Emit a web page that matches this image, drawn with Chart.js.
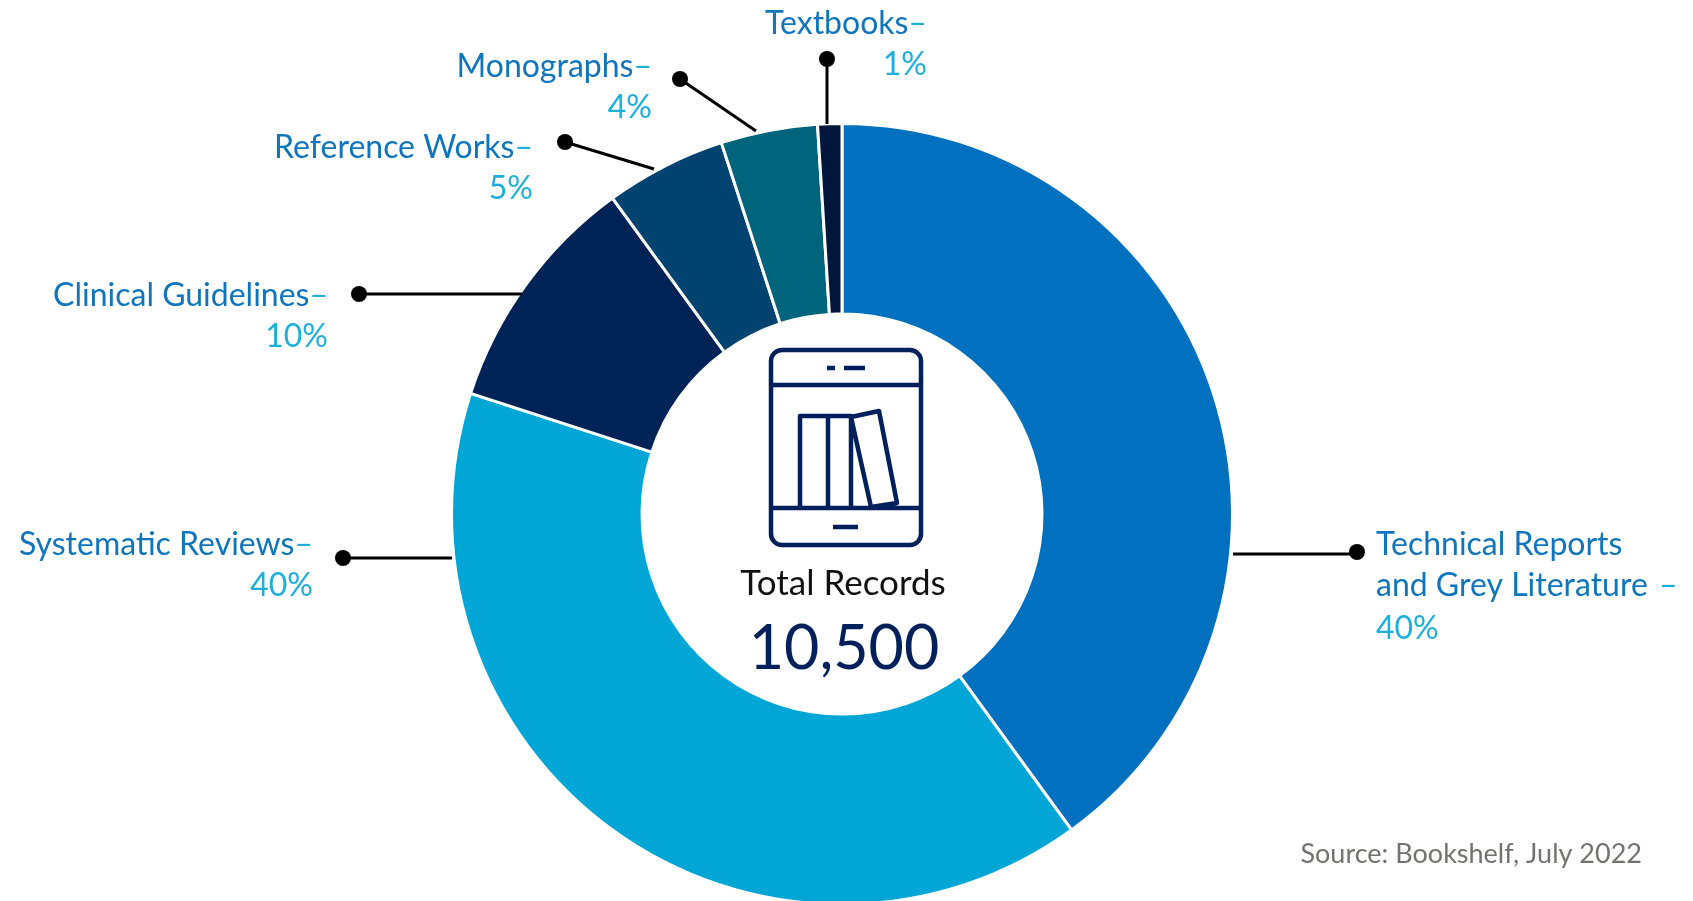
<!DOCTYPE html>
<html>
<head>
<meta charset="utf-8">
<title>Bookshelf records by type</title>
<script src="https://cdn.jsdelivr.net/npm/chart.js@4"></script>
<style>
    html, body { margin: 0; padding: 0; background: #fff; overflow: hidden; }
    canvas { display: block; }
</style>
</head>
<body>
<canvas id="chart" width="1693" height="920"></canvas>
<script>
const categories = ['Technical Reports and Grey Literature', 'Systematic Reviews', 'Clinical Guidelines', 'Reference Works', 'Monographs', 'Textbooks'];
const shares = [40, 40, 10, 5, 4, 1];
const sliceColors = ['#0070BF', '#00A7D6', '#002357', '#004370', '#00647C', '#00173B'];
const totalLabel = 'Total Records';
const totalValue = '10,500';
const sourceNote = 'Source: Bookshelf, July 2022';

const FONT = 'Lato, Carlito, Calibri, sans-serif';
const BLUE = '#0F75BC';
const CYAN = '#1DB0DC';
const NAVY = '#00205B';

// callouts, same order as categories
const callouts = [
    { dot: [1357, 552], start: [1350, 554], end: [1233, 554] },
    { dot: [343, 558], end: [452, 558], right: 313, y: 555 },
    { dot: [359, 294], end: [522, 294], right: 328, y: 306 },
    { dot: [565, 142], end: [654, 169], right: 533, y: 158 },
    { dot: [680, 79], end: [756, 131], right: 652, y: 77 },
    { dot: [827, 59], end: [827, 124], right: 927, y: 34 },
];

function drawCallouts(ctx) {
    ctx.strokeStyle = '#000';
    ctx.fillStyle = '#000';
    ctx.lineWidth = 3;
    callouts.forEach(c => {
        const start = c.start || c.dot;
        ctx.beginPath();
        ctx.moveTo(start[0], start[1]);
        ctx.lineTo(c.end[0], c.end[1]);
        ctx.stroke();
        ctx.beginPath();
        ctx.arc(c.dot[0], c.dot[1], 8, 0, Math.PI * 2);
        ctx.fill();
    });
}

function drawLabels(ctx) {
    ctx.font = '32px ' + FONT;
    ctx.textBaseline = 'alphabetic';

    // the five labels set flush right
    callouts.forEach((c, i) => {
        if (c.right === undefined) return;
        const dashWidth = ctx.measureText('–').width;
        ctx.textAlign = 'right';
        ctx.fillStyle = CYAN;
        ctx.fillText('–', c.right, c.y);
        ctx.fillText(shares[i] + '%', c.right, c.y + 41);
        ctx.fillStyle = BLUE;
        ctx.fillText(categories[i], c.right - dashWidth, c.y);
    });

    // the long one wraps over two lines on the right side
    ctx.textAlign = 'left';
    ctx.fillStyle = BLUE;
    ctx.fillText('Technical Reports', 1376, 555);
    ctx.fillText('and Grey Literature', 1376, 596);
    const w = ctx.measureText('and Grey Literature ').width;
    ctx.fillStyle = CYAN;
    ctx.fillText('–', 1379 + w, 596);
    ctx.fillText(shares[0] + '%', 1376, 639);
}

function drawIcon(ctx) {
    ctx.strokeStyle = NAVY;
    ctx.lineWidth = 4.5;
    ctx.lineJoin = 'round';
    ctx.beginPath();
    ctx.roundRect(771, 350, 150, 195, 11);
    ctx.moveTo(771, 385); ctx.lineTo(921, 385);
    ctx.moveTo(771, 508); ctx.lineTo(921, 508);
    // speaker and home button
    ctx.moveTo(827, 368); ctx.lineTo(835, 368);
    ctx.moveTo(844, 368); ctx.lineTo(865, 368);
    ctx.moveTo(833, 527); ctx.lineTo(858, 527);
    // upright books
    ctx.moveTo(800, 508); ctx.lineTo(800, 416); ctx.lineTo(851, 416); ctx.lineTo(851, 508);
    ctx.moveTo(828, 416); ctx.lineTo(828, 508);
    // leaning book
    ctx.moveTo(851, 417); ctx.lineTo(879, 411); ctx.lineTo(897, 503); ctx.lineTo(871, 507); ctx.closePath();
    ctx.stroke();
}

function drawCentre(ctx) {
    ctx.textAlign = 'center';
    ctx.fillStyle = '#111';
    ctx.font = '35px ' + FONT;
    ctx.fillText(totalLabel, 843, 595);
    ctx.fillStyle = NAVY;
    ctx.font = '61px ' + FONT;
    ctx.fillText(totalValue, 844, 669);
    ctx.textAlign = 'right';
    ctx.fillStyle = '#767171';
    ctx.font = '27px ' + FONT;
    ctx.fillText(sourceNote, 1642, 863);
}

const overlayPlugin = {
    id: 'overlay',
    afterDraw(chart) {
        const ctx = chart.ctx;
        ctx.save();
        drawCallouts(ctx);
        drawLabels(ctx);
        drawIcon(ctx);
        drawCentre(ctx);
        ctx.restore();
    },
};

document.addEventListener('DOMContentLoaded', () => {
    const ctx = document.getElementById('chart').getContext('2d');
    new Chart(ctx, {
        type: 'doughnut',
        data: {
            labels: categories,
            datasets: [
                {
                    data: shares,
                    backgroundColor: sliceColors,
                    borderColor: '#fff',
                    borderWidth: 3,
                },
            ],
        },
        options: {
            responsive: false,
            animation: false,
            cutout: 200,
            layout: {
                padding: { left: 450, right: 459, top: 122, bottom: 14 },
            },
            plugins: {
                legend: { display: false },
                tooltip: { enabled: false },
            },
        },
        plugins: [overlayPlugin],
    });
});
</script>
</body>
</html>
